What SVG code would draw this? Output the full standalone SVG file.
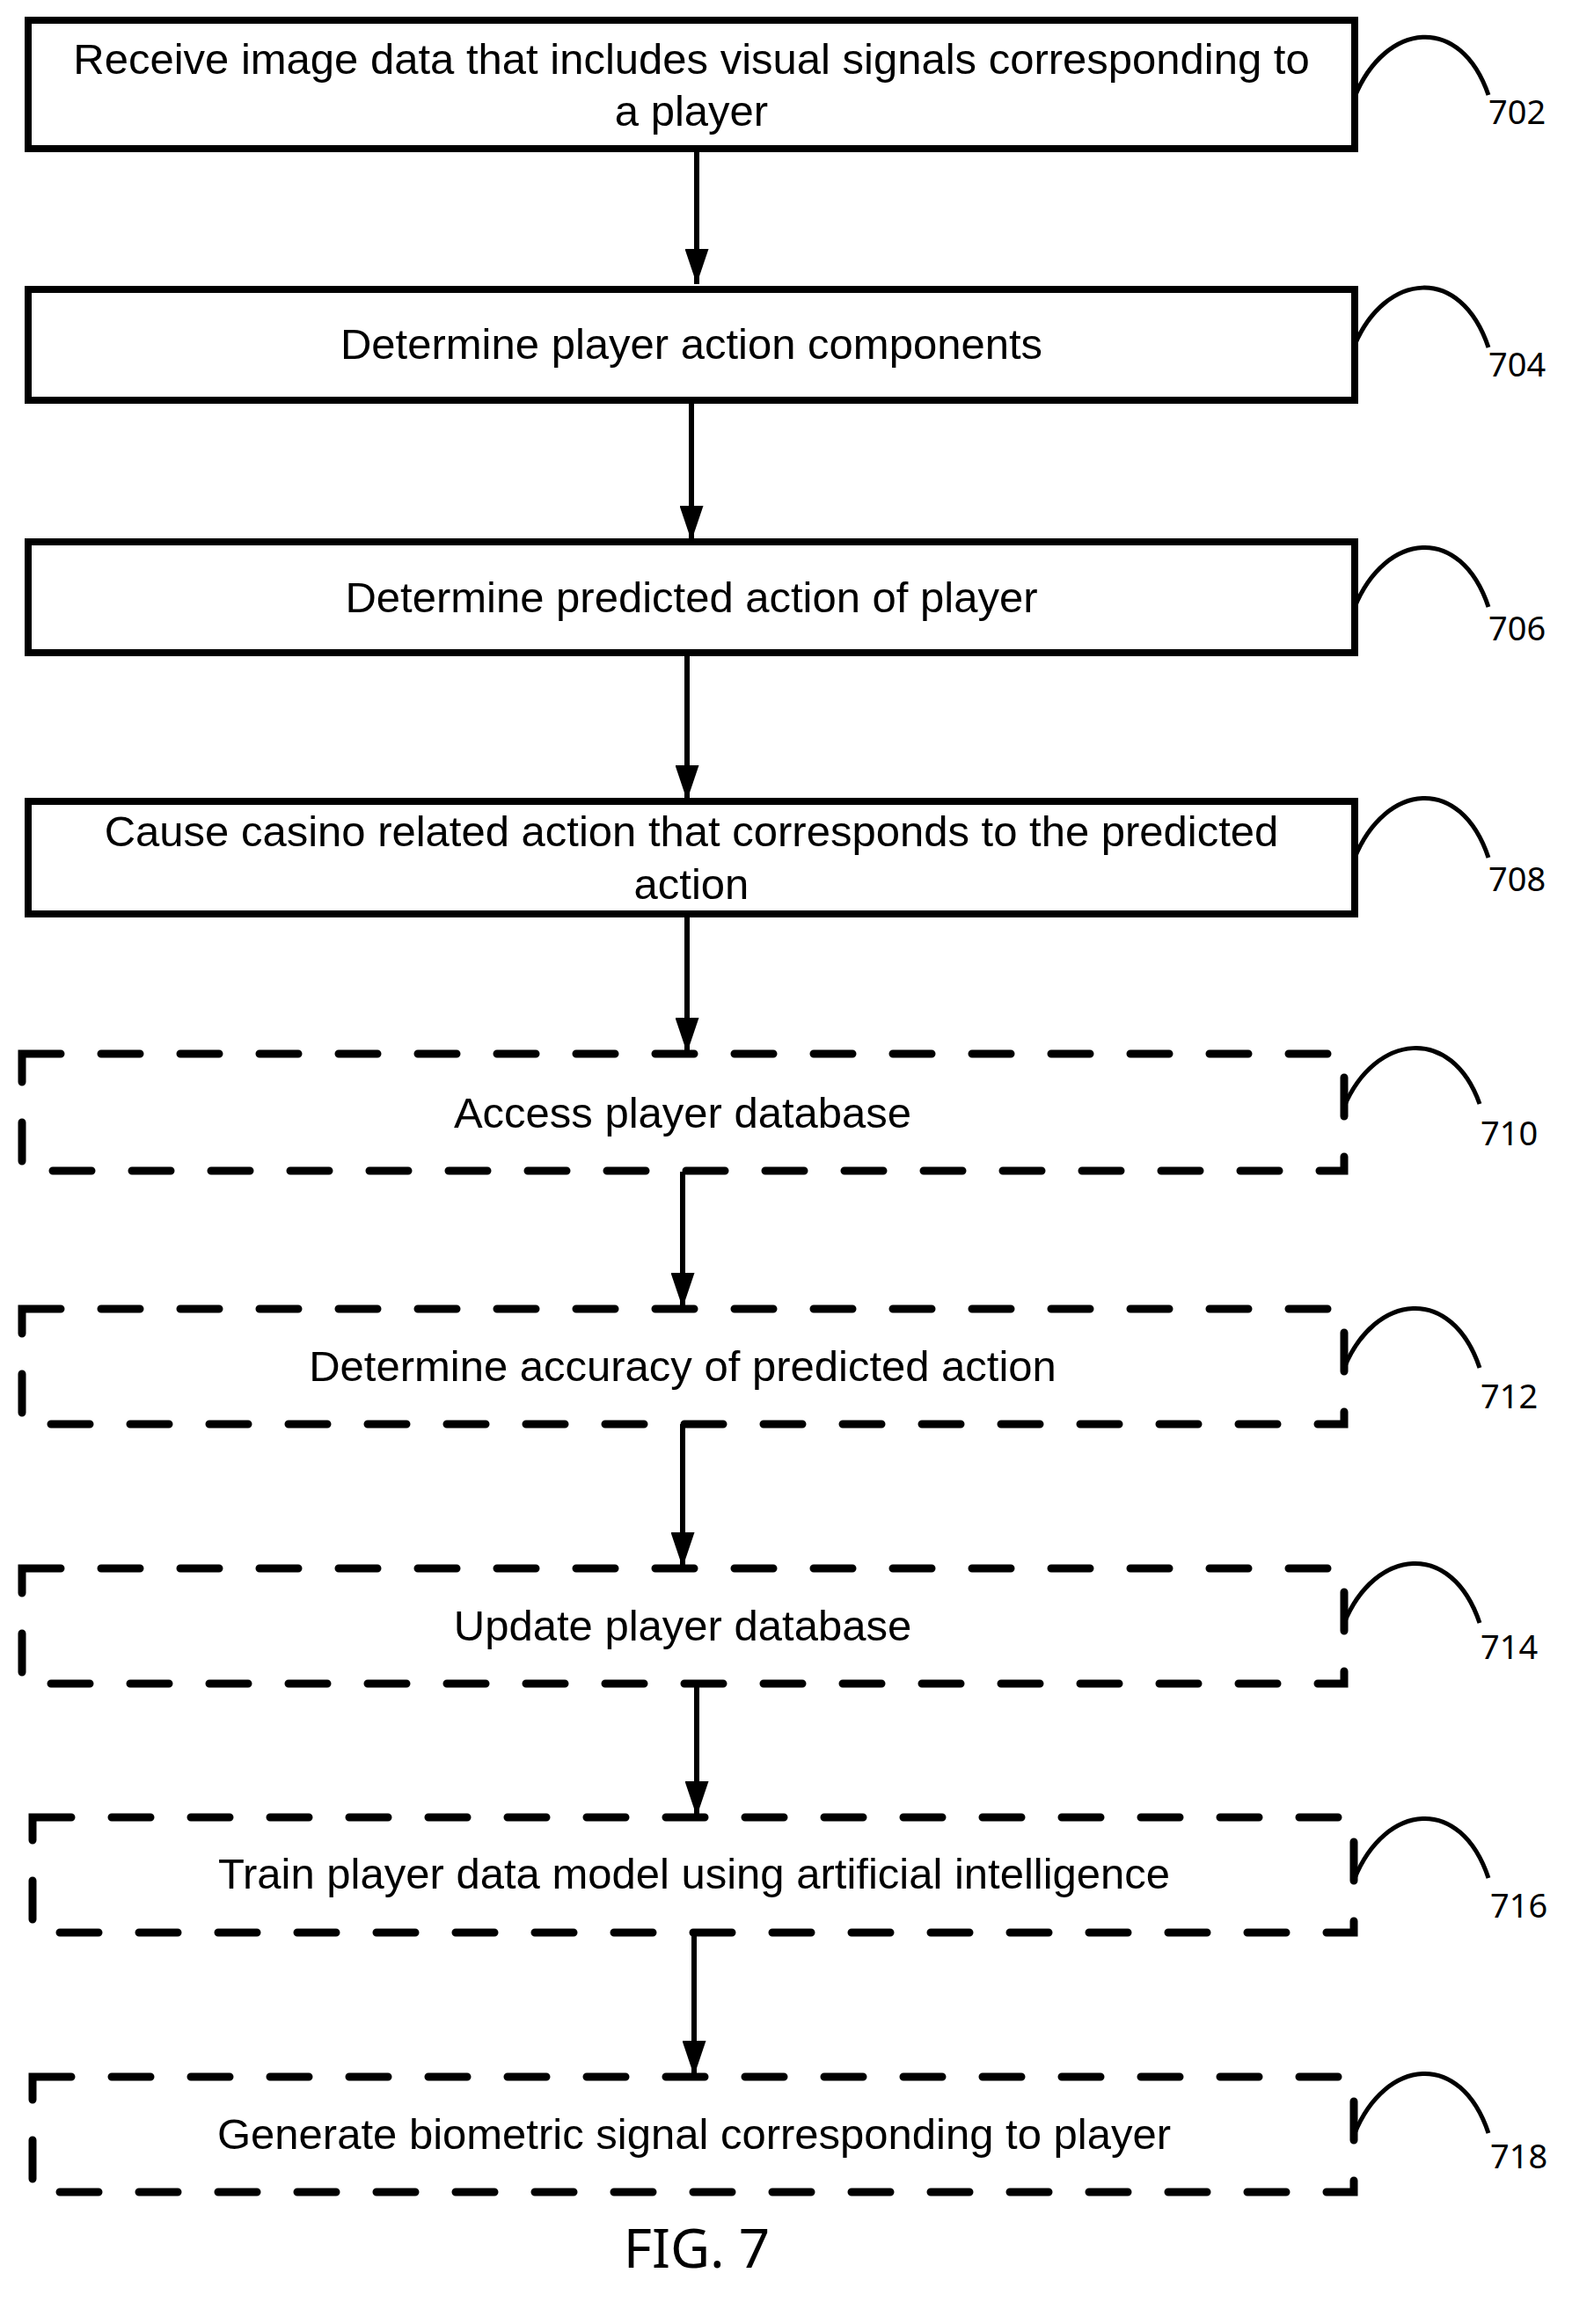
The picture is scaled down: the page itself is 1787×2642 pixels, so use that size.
<svg xmlns="http://www.w3.org/2000/svg" width="1787" height="2642" viewBox="0 0 1787 2642">
<style>
.b{fill:#fff;stroke:#000;stroke-width:8}
.d{fill:#fff;stroke:#000;stroke-width:9;stroke-dasharray:44 46;stroke-linecap:round}
.t{font-family:"Liberation Sans",Arial,sans-serif;font-size:49px;text-anchor:middle;fill:#000}
.n{font-family:"Noto Sans","Open Sans",sans-serif;font-size:38px;fill:#000}
.c{fill:none;stroke:#000;stroke-width:5}
</style>
<defs>
<marker id="ah2" viewBox="0 0 10 10" refX="10" refY="5" markerWidth="40" markerHeight="27" markerUnits="userSpaceOnUse" preserveAspectRatio="none" orient="auto"><path d="M0,0 L10,5 L0,10z"/></marker></defs>
<g id="connectors">
<line x1="792" y1="170" x2="792" y2="323" stroke="#000" stroke-width="6" marker-end="url(#ah2)"/>
<line x1="786" y1="457" x2="786" y2="615" stroke="#000" stroke-width="6" marker-end="url(#ah2)"/>
<line x1="781" y1="742" x2="781" y2="910" stroke="#000" stroke-width="6" marker-end="url(#ah2)"/>
<line x1="781" y1="1040" x2="781" y2="1197" stroke="#000" stroke-width="6" marker-end="url(#ah2)"/>
<line x1="776" y1="1332" x2="776" y2="1487" stroke="#000" stroke-width="6" marker-end="url(#ah2)"/>
<line x1="776" y1="1619" x2="776" y2="1782" stroke="#000" stroke-width="6" marker-end="url(#ah2)"/>
<line x1="792" y1="1914" x2="792" y2="2065" stroke="#000" stroke-width="6" marker-end="url(#ah2)"/>
<line x1="789" y1="2197" x2="789" y2="2360" stroke="#000" stroke-width="6" marker-end="url(#ah2)"/>
</g>
<g id="n702"><rect class="b" x="32" y="23" width="1508" height="146"/><text class="t" x="786" y="84">Receive image data that includes visual signals corresponding to</text><text class="t" x="786" y="143">a player</text><path class="c" d="M1540,110 C1575,25 1660,15 1692,108"/><text class="n" x="1692" y="141">702</text></g>
<g id="n704"><rect class="b" x="32" y="329" width="1508" height="126"/><text class="t" x="786" y="408">Determine player action components</text><path class="c" d="M1540,392 C1575,310 1660,300 1692,395"/><text class="n" x="1692" y="428">704</text></g>
<g id="n706"><rect class="b" x="32" y="616" width="1508" height="126"/><text class="t" x="786" y="696">Determine predicted action of player</text><path class="c" d="M1540,690 C1575,605 1660,595 1692,690"/><text class="n" x="1692" y="728">706</text></g>
<g id="n708"><rect class="b" x="32" y="911" width="1508" height="128"/><text class="t" x="786" y="962">Cause casino related action that corresponds to the predicted</text><text class="t" x="786" y="1022">action</text><path class="c" d="M1540,975 C1575,890 1660,880 1692,975"/><text class="n" x="1692" y="1013">708</text></g>
<g id="n710"><rect class="d" x="25" y="1198" width="1503" height="133"/><text class="t" x="776" y="1282">Access player database</text><path class="c" d="M1528,1258 C1563,1175 1650,1165 1682,1255"/><text class="n" x="1683" y="1302">710</text></g>
<g id="n712"><rect class="d" x="25" y="1488" width="1503" height="131"/><text class="t" x="776" y="1570">Determine accuracy of predicted action</text><path class="c" d="M1528,1555 C1563,1470 1650,1460 1682,1555"/><text class="n" x="1683" y="1601">712</text></g>
<g id="n714"><rect class="d" x="25" y="1783" width="1503" height="131"/><text class="t" x="776" y="1865">Update player database</text><path class="c" d="M1528,1845 C1563,1760 1650,1750 1682,1845"/><text class="n" x="1683" y="1886">714</text></g>
<g id="n716"><rect class="d" x="37" y="2066" width="1502" height="131"/><text class="t" x="789" y="2147">Train player data model using artificial intelligence</text><path class="c" d="M1540,2135 C1575,2050 1660,2040 1692,2135"/><text class="n" x="1694" y="2180">716</text></g>
<g id="n718"><rect class="d" x="37" y="2361" width="1502" height="131"/><text class="t" x="789" y="2443">Generate biometric signal corresponding to player</text><path class="c" d="M1540,2425 C1575,2340 1660,2330 1692,2425"/><text class="n" x="1694" y="2465">718</text></g>
<text x="792" y="2578" font-family="'Noto Sans','Open Sans',sans-serif" font-size="62" text-anchor="middle">FIG. 7</text>
</svg>
